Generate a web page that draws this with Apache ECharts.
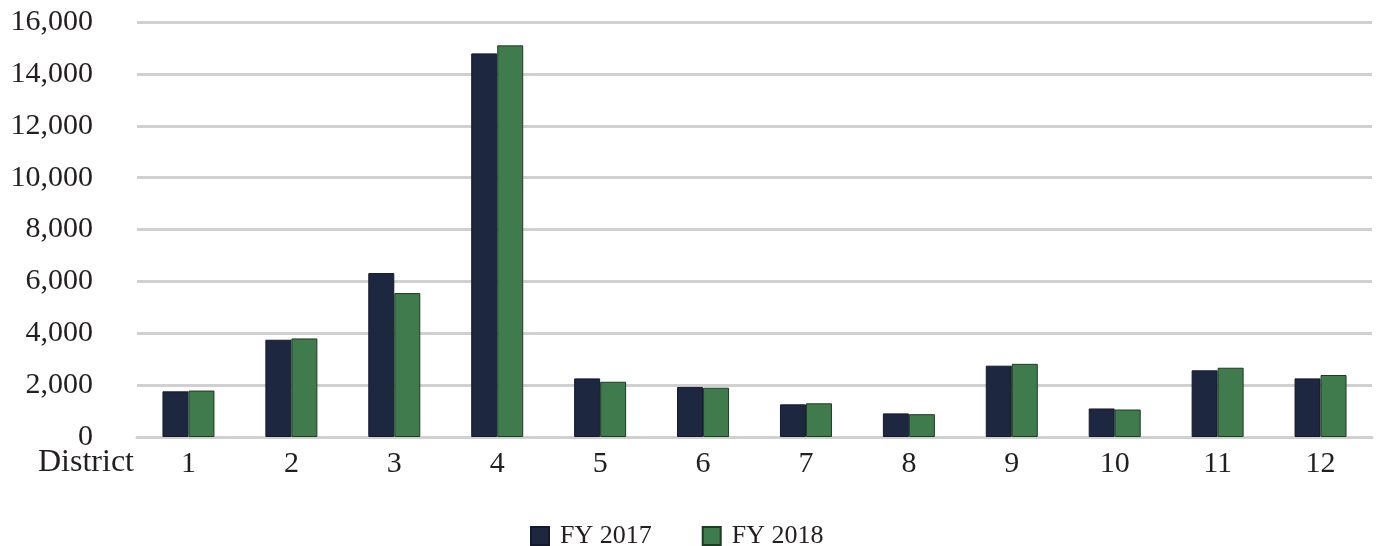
<!DOCTYPE html>
<html>
<head>
<meta charset="utf-8">
<script src="https://cdn.jsdelivr.net/npm/echarts@6/dist/echarts.min.js"></script>
<style>
	html, body { margin: 0; padding: 0; background: #fff; }
	#main { width: 1380px; height: 546px; }
</style>
</head>
<body>
<div id="main"></div>
<script>
'use strict';

// 数据
var districts = ['1', '2', '3', '4', '5', '6', '7', '8', '9', '10', '11', '12'];
var fy2017 = [1760, 3750, 6320, 14790, 2260, 1930, 1260, 910, 2750, 1100, 2570, 2260];
var fy2018 = [1790, 3800, 5550, 15100, 2130, 1900, 1300, 880, 2820, 1060, 2670, 2390];
var seriesNames = ['FY 2017', 'FY 2018'];

var serif = '"Liberation Serif", "DejaVu Serif", serif';
var myChart = echarts.init(document.getElementById('main'));

myChart.setOption({
	animation: false,
	color: ['#1e2740', '#3f7b4d'],
	grid: {
		left: 137,
		right: 8,
		top: 22,
		bottom: 109,
		containLabel: false
	},
	legend: {
		data: seriesNames,
		top: 518,
		left: 525,
		icon: 'rect',
		itemWidth: 18,
		itemHeight: 18,
		itemGap: 50,
		textStyle: {
			fontFamily: serif,
			fontSize: 26,
			color: '#231f20',
			padding: [0, 0, 0, 6]
		}
	},
	graphic: [{
		type: 'text',
		left: 38,
		top: 447,
		style: {
			text: 'District',
			font: '32px ' + serif,
			fill: '#231f20'
		}
	}],
	xAxis: [{
		type: 'category',
		data: districts,
		axisLine: { lineStyle: { color: '#d0d0d0', width: 3 } },
		axisTick: { show: false },
		axisLabel: {
			fontFamily: serif,
			fontSize: 30,
			color: '#231f20',
			margin: 12
		}
	}],
	yAxis: [{
		type: 'value',
		min: 0,
		max: 16000,
		interval: 2000,
		axisLine: { show: false },
		axisTick: { show: false },
		splitLine: { lineStyle: { color: '#d0d0d0', width: 3 } },
		axisLabel: {
			fontFamily: serif,
			fontSize: 30,
			color: '#231f20',
			margin: 44,
			formatter: function (v) {
				return v.toLocaleString('en-US');
			}
		}
	}],
	series: [{
		name: seriesNames[0],
		type: 'bar',
		data: fy2017,
		barWidth: 26,
		barGap: '0%',
		itemStyle: { borderColor: '#141a2c', borderWidth: 1 }
	}, {
		name: seriesNames[1],
		type: 'bar',
		data: fy2018,
		barWidth: 26,
		barGap: '0%',
		itemStyle: { borderColor: '#1d3d22', borderWidth: 1 }
	}]
});
</script>
</body>
</html>
